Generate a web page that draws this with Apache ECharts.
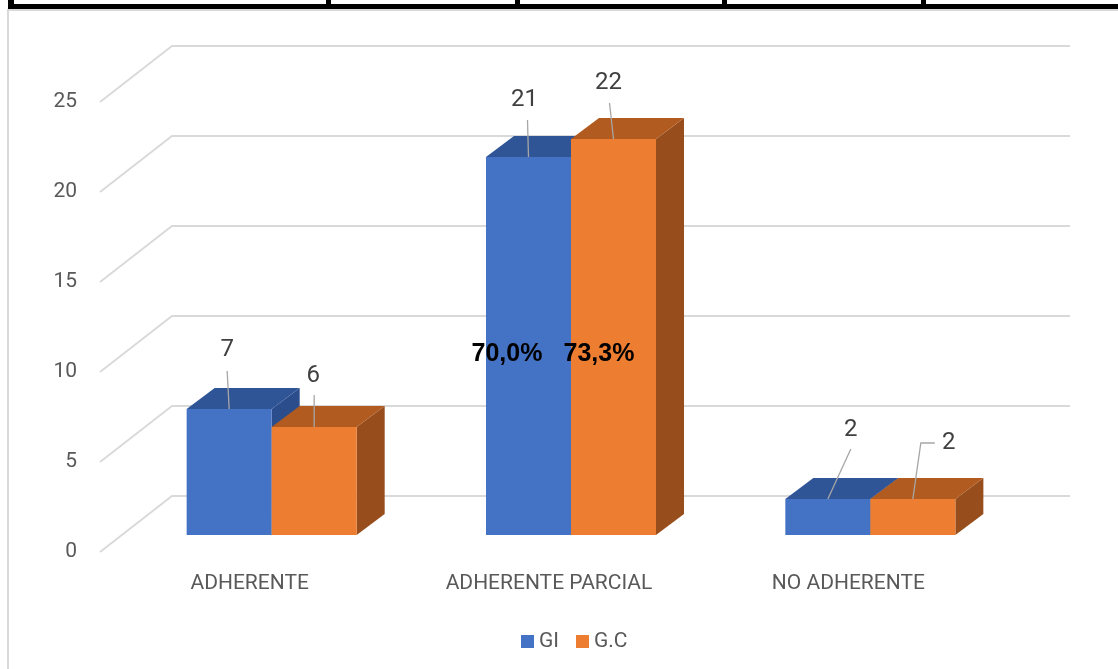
<!DOCTYPE html>
<html>
<head>
<meta charset="utf-8">
<script src="https://cdn.jsdelivr.net/npm/echarts@6/dist/echarts.min.js"></script>
<style>
  html, body { margin: 0; padding: 0; background: #ffffff; }
  #chart { position: absolute; left: 0; top: 0; width: 1118px; height: 669px; }
</style>
</head>
<body>
<div id="chart"></div>
<script>
// ---- data ----
const categories = ['ADHERENTE', 'ADHERENTE PARCIAL', 'NO ADHERENTE'];
const seriesNames = ['GI', 'G.C'];
const giValues = [7, 21, 2];
const gcValues = [6, 22, 2];
const yTicks = [0, 5, 10, 15, 20, 25];
const shareLabels = ['70,0%', '73,3%'];   // shares of GI and G.C in ADHERENTE PARCIAL
const shareCategory = 1;

// ---- look ----
const FONT = 'Roboto, "Noto Sans", sans-serif';
const TEXT_GREY = '#595959';
const GRID_GREY = '#d9d9d9';
const WALL = [72, -56];        // front plane -> back wall offset
const BAR_FRONT = [22, -17];   // front face of the bars inside the box
const BAR_DEPTH = [28, -21];   // depth of each bar
const BAR_FRAC = 0.284;        // bar width as a share of the category band
const palettes = [
  { front: '#4472c4', top: '#2f5597', side: '#2b4d8c' },
  { front: '#ed7d31', top: '#b25b20', side: '#974e1c' }
];
// value label position and leader polyline, relative to the front-top centre of a bar
const labelPlacement = [
  [ { at: [-2, -59], leader: [[-2, -38], [0, 0]] },
    { at: [-4, -57], leader: [[-1, -37], [0, 0]] },
    { at: [23, -69], leader: [[23, -50], [0, 0]] } ],
  [ { at: [-1, -51], leader: [[0, -32], [0, 0]] },
    { at: [-5, -56], leader: [[-4, -36], [0, 0]] },
    { at: [36, -56], leader: [[22, -56], [8, -56], [0, 0]] } ]
];
const shareAt = 11;                   // vertical anchor (axis units) of the share labels
const shareShift = [[-42, 0], [50, 0]];

function barRenderer(si) {
  const pal = palettes[si];
  return function (params, api) {
    const cat = api.value(0);
    const val = api.value(1);
    const band = api.size([1, 0])[0];
    const w = band * BAR_FRAC;
    const base = api.coord([cat, 0]);
    const topPt = api.coord([cat, val]);
    const x0 = base[0] + BAR_FRONT[0] + (si === 0 ? -w : 0);
    const x1 = x0 + w;
    const yb = base[1] + BAR_FRONT[1];
    const yt = topPt[1] + BAR_FRONT[1];
    const dx = BAR_DEPTH[0], dy = BAR_DEPTH[1];
    const children = [
      { type: 'polygon', shape: { points: [[x1, yb], [x1 + dx, yb + dy], [x1 + dx, yt + dy], [x1, yt]] },
        style: { fill: pal.side } },
      { type: 'polygon', shape: { points: [[x0, yt], [x1, yt], [x1 + dx, yt + dy], [x0 + dx, yt + dy]] },
        style: { fill: pal.top } },
      { type: 'rect', shape: { x: x0, y: yt, width: w, height: yb - yt },
        style: { fill: pal.front } }
    ];
    const cx = (x0 + x1) / 2;
    const lp = labelPlacement[si][params.dataIndex];
    children.push({
      type: 'polyline',
      shape: { points: lp.leader.map(p => [cx + p[0], yt + p[1]]) },
      style: { stroke: '#a6a6a6', lineWidth: 1.3, fill: null }
    });
    children.push({
      type: 'text',
      style: { text: String(val), x: cx + lp.at[0], y: yt + lp.at[1],
        align: 'center', verticalAlign: 'middle',
        fill: '#404040', font: '24px ' + FONT }
    });
    if (cat === shareCategory) {
      const p = api.coord([cat, shareAt]);
      children.push({
        type: 'text',
        style: { text: shareLabels[si], x: p[0] + shareShift[si][0], y: p[1],
          align: 'center', verticalAlign: 'middle',
          fill: '#000000', font: 'bold 25px "Liberation Sans", Arial, sans-serif' }
      });
    }
    return { type: 'group', children: children };
  };
}

function gridRenderer(params, api) {
  const cs = params.coordSys;
  const y = api.coord([0, api.value(1)])[1];
  const xl = cs.x, xr = cs.x + cs.width;
  return {
    type: 'polyline',
    shape: { points: [[xl, y], [xl + WALL[0], y + WALL[1]], [xr + WALL[0], y + WALL[1]]] },
    style: { stroke: GRID_GREY, lineWidth: 1.8, fill: null }
  };
}

const chart = echarts.init(document.getElementById('chart'), null, { renderer: 'canvas' });

chart.setOption({
  backgroundColor: '#ffffff',
  animation: false,
  textStyle: { fontFamily: FONT },
  grid: { left: 100, right: 120, top: 102, bottom: 117 },
  xAxis: {
    type: 'category',
    data: categories,
    axisLine: { show: false },
    axisTick: { show: false },
    splitLine: { show: false },
    axisLabel: { color: TEXT_GREY, fontSize: 21, fontFamily: FONT, margin: 21 }
  },
  yAxis: {
    type: 'value',
    min: 0, max: 25, interval: 5,
    axisLine: { show: false },
    axisTick: { show: false },
    splitLine: { show: false },
    axisLabel: { color: TEXT_GREY, fontSize: 21, fontFamily: FONT, margin: 23,
      formatter: v => (yTicks.indexOf(v) >= 0 ? String(v) : '') }
  },
  legend: {
    data: seriesNames,
    left: 521, top: 631,
    padding: 0,
    itemWidth: 13, itemHeight: 13, itemGap: 17,
    icon: 'rect',
    textStyle: { color: TEXT_GREY, fontSize: 21, fontFamily: FONT }
  },
  graphic: [
    // table border above the chart and the chart frame
    { type: 'rect', shape: { x: 8, y: 4, width: 1110, height: 5 }, style: { fill: '#000' } },
    { type: 'rect', shape: { x: 8, y: 0, width: 6, height: 5 }, style: { fill: '#000' } },
    { type: 'rect', shape: { x: 326, y: 0, width: 5, height: 5 }, style: { fill: '#000' } },
    { type: 'rect', shape: { x: 515, y: 0, width: 5, height: 5 }, style: { fill: '#000' } },
    { type: 'rect', shape: { x: 722, y: 0, width: 5, height: 5 }, style: { fill: '#000' } },
    { type: 'rect', shape: { x: 921, y: 0, width: 5, height: 5 }, style: { fill: '#000' } },
    { type: 'rect', shape: { x: 8, y: 9, width: 1110, height: 2 }, style: { fill: '#d9d9d9' } },
    { type: 'rect', shape: { x: 7, y: 9, width: 2, height: 660 }, style: { fill: '#d9d9d9' } }
  ],
  series: [
    {
      name: 'walls',
      type: 'custom',
      renderItem: gridRenderer,
      data: yTicks.map(v => [0, v]),
      silent: true,
      z: 1
    },
    {
      name: seriesNames[0],
      type: 'custom',
      renderItem: barRenderer(0),
      itemStyle: { color: palettes[0].front },
      data: giValues.map((v, i) => [i, v]),
      z: 2
    },
    {
      name: seriesNames[1],
      type: 'custom',
      renderItem: barRenderer(1),
      itemStyle: { color: palettes[1].front },
      data: gcValues.map((v, i) => [i, v]),
      z: 3
    }
  ]
});
</script>
</body>
</html>
